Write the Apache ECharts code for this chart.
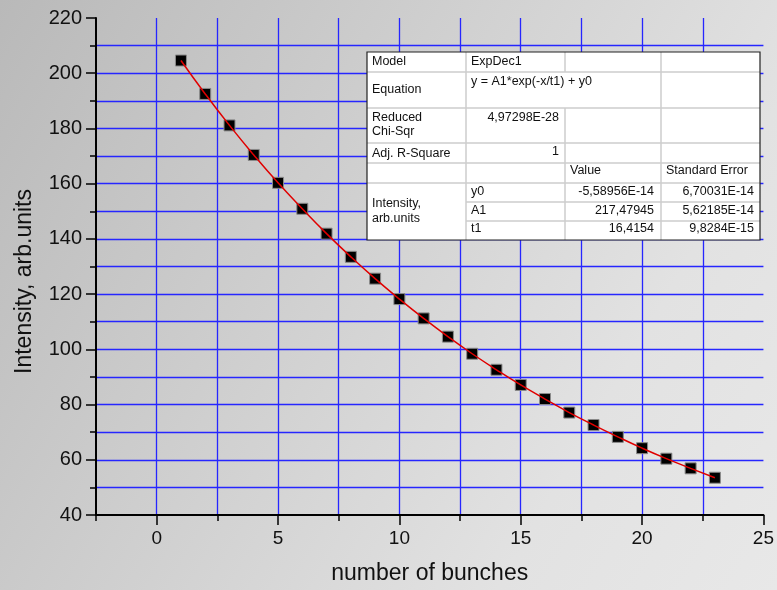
<!DOCTYPE HTML>
<html>
<head>
	<meta charset="utf-8" />
	<title>ExpDec1 fit</title>
	<script src="https://cdn.jsdelivr.net/npm/echarts@6/dist/echarts.min.js"></script>
	<style>
		body { margin: 0; }
		#main {
			width: 777px; height: 590px;
			background: linear-gradient(120deg, #b9b9b9 0%, #cfcfcf 40%, #e2e2e2 75%, #e8e8e8 100%);
		}
	</style>
</head>
<body>
	<div id="main"></div>
	<script type="text/javascript">
		// measured points
		var bunches = [1, 2, 3, 4, 5, 6, 7, 8, 9, 10, 11, 12, 13, 14, 15, 16, 17, 18, 19, 20, 21, 22, 23];
		var intensity = [204.6, 192.5, 181.1, 170.4, 160.3, 150.9, 141.9, 133.5, 125.6, 118.2, 111.2, 104.6,
			98.4, 92.6, 87.1, 82.0, 77.1, 72.6, 68.3, 64.2, 60.4, 56.9, 53.5];
		// red fit curve
		var fitX = [1, 2, 3, 4, 5, 6, 7, 8, 9, 10, 11, 12, 13, 14, 15, 16, 17, 18, 19, 20, 21, 22, 23];
		var fitY = [204.6, 192.5, 181.1, 170.4, 160.3, 150.9, 141.9, 133.5, 125.6, 118.2, 111.2, 104.6,
			98.4, 92.6, 87.1, 82.0, 77.1, 72.6, 68.3, 64.2, 60.4, 56.9, 53.5];
		var xTickLabels = [0, 5, 10, 15, 20, 25];

		// fit report table
		var modelName = "ExpDec1";
		var equation = "y = A1*exp(-x/t1) + y0";
		var chiSqr = "4,97298E-28";
		var adjR2 = "1";
		var paramNames = ["y0", "A1", "t1"];
		var paramValues = ["-5,58956E-14", "217,47945", "16,4154"];
		var paramErrors = ["6,70031E-14", "5,62185E-14", "9,8284E-15"];

		var FONT = "'Liberation Sans', Arial, sans-serif";
		var GRID_BLUE = "#2626ff";
		var GRID_W = 1.3;

		function buildTable() {
			var els = [];
			var L = 367, T = 52, R = 760, B = 240;
			var c1 = 466, c2 = 565, c3 = 661;
			var lineStyle = { stroke: "#cdcdcd", lineWidth: 1.5 };

			els.push({ type: "rect", shape: { x: L, y: T, width: R - L, height: B - T },
				style: { fill: "#fff" }, z: 50 });

			function hline(y, x1) {
				els.push({ type: "line", shape: { x1: x1, y1: y, x2: R, y2: y }, style: lineStyle, z: 51 });
			}
			function vline(x, y1, y2) {
				els.push({ type: "line", shape: { x1: x, y1: y1, x2: x, y2: y2 }, style: lineStyle, z: 51 });
			}
			hline(72, L); hline(108, L); hline(143, L); hline(163, L); hline(183, L);
			hline(202, c1); hline(221, c1);
			vline(c1, T, B); vline(c2, T, 72); vline(c2, 108, B); vline(c3, T, B);

			els.push({ type: "rect", shape: { x: L, y: T, width: R - L, height: B - T },
				style: { fill: null, stroke: "#222", lineWidth: 1.2 }, z: 52 });

			function txt(s, x, y, align) {
				els.push({ type: "text", z: 53,
					style: { text: s, x: x, y: y, fill: "#111", font: "12.5px " + FONT,
						textAlign: align || "left", textVerticalAlign: "middle" } });
			}
			txt("Model", 372, 62);
			txt("Equation", 372, 90);
			txt("Reduced", 372, 117.5);
			txt("Chi-Sqr", 372, 131.5);
			txt("Adj. R-Square", 372, 154);
			txt("Intensity,", 372, 204);
			txt("arb.units", 372, 219);
			txt(modelName, 471, 62);
			txt(equation, 471, 82);
			txt(chiSqr, 559, 117.5, "right");
			txt(adjR2, 559, 152, "right");
			txt("Value", 570, 171);
			txt("Standard Error", 666, 171);
			var rowY = [192, 211, 229];
			for (var i = 0; i < paramNames.length; i++) {
				txt(paramNames[i], 471, rowY[i]);
				txt(paramValues[i], 654, rowY[i], "right");
				txt(paramErrors[i], 754, rowY[i], "right");
			}
			return els;
		}

		var myChart = echarts.init(document.getElementById("main"));

		var pts = [];
		for (var i = 0; i < bunches.length; i++) pts.push([bunches[i], intensity[i]]);
		var fit = [];
		for (var j = 0; j < fitX.length; j++) fit.push([fitX[j], fitY[j]]);

		var option = {
			animation: false,
			backgroundColor: "transparent",
			textStyle: { fontFamily: FONT },
			grid: { left: 96, top: 18, right: 10, bottom: 73 },
			xAxis: [{
				type: "value",
				position: "bottom",
				min: -2.5, max: 25, interval: 2.5,
				axisLine: { show: true, onZero: false, lineStyle: { color: "#000", width: 2 } },
				axisTick: { show: true, length: 6, lineStyle: { color: "#000", width: 1.5 } },
				axisLabel: { show: false },
				splitLine: { show: true, showMinLine: false, showMaxLine: false,
					lineStyle: { color: GRID_BLUE, width: GRID_W } }
			}, {
				type: "value",
				position: "bottom",
				offset: 0,
				min: -2.5, max: 25, interval: 2.5,
				axisLine: { show: false, onZero: false },
				axisTick: { show: true, length: 10, customValues: xTickLabels,
					lineStyle: { color: "#000", width: 1.5 } },
				axisLabel: { show: true, customValues: xTickLabels, margin: 14,
					color: "#111", fontSize: 19, fontFamily: FONT },
				splitLine: { show: false },
				name: "number of bunches",
				nameLocation: "middle",
				nameGap: 47,
				nameTextStyle: { color: "#111", fontSize: 23, fontFamily: FONT }
			}],
			yAxis: {
				type: "value",
				min: 40, max: 220, interval: 20,
				axisLine: { show: true, onZero: false, lineStyle: { color: "#000", width: 2 } },
				axisTick: { show: true, length: 10, lineStyle: { color: "#000", width: 1.5 } },
				minorTick: { show: true, splitNumber: 2, length: 6, lineStyle: { color: "#000", width: 1.5 } },
				axisLabel: { margin: 14, color: "#111", fontSize: 20, fontFamily: FONT },
				splitLine: { show: true, showMinLine: false, showMaxLine: false,
					lineStyle: { color: GRID_BLUE, width: GRID_W } },
				minorSplitLine: { show: true, lineStyle: { color: GRID_BLUE, width: GRID_W } },
				name: "Intensity, arb.units",
				nameLocation: "middle",
				nameGap: 60,
				nameTextStyle: { color: "#111", fontSize: 23, fontFamily: FONT, padding: [0, 30, 0, 0] }
			},
			series: [{
				name: "data",
				type: "scatter",
				xAxisIndex: 0,
				symbol: "rect",
				symbolSize: 11,
				itemStyle: { color: "#000", borderColor: "#8a8a8a", borderWidth: 1, opacity: 1 },
				data: pts
			}, {
				name: "fit",
				type: "line",
				xAxisIndex: 0,
				smooth: true,
				showSymbol: false,
				lineStyle: { color: "#e00000", width: 1.5 },
				data: fit,
				z: 3
			}],
			graphic: buildTable()
		};

		myChart.setOption(option);
	</script>
</body>
</html>
